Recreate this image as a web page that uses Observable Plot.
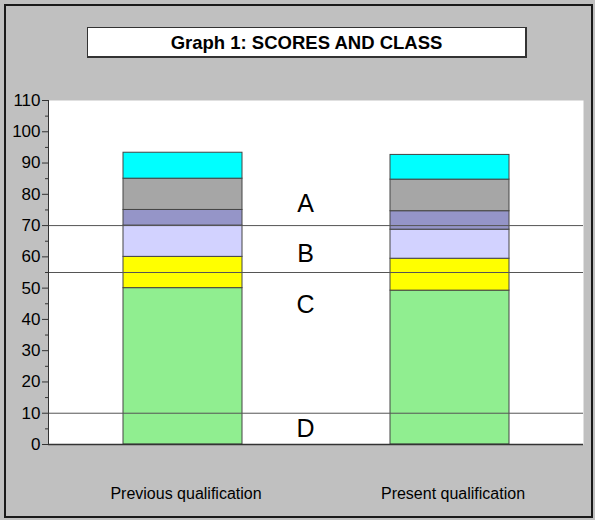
<!DOCTYPE html>
<html><head><meta charset="utf-8">
<script src="https://cdn.jsdelivr.net/npm/d3@7"></script>
<script src="https://cdn.jsdelivr.net/npm/@observablehq/plot@0.6"></script>
<style>
body{margin:0;background:#c0c0c0;font-family:"Liberation Sans",Arial,sans-serif;}
#wrap{position:relative;width:595px;height:520px;background:#c0c0c0;overflow:hidden}
#border{position:absolute;left:4px;top:4px;width:589px;height:514px;box-sizing:border-box;border:2px solid #1a1a1a;pointer-events:none}
#title{position:absolute;left:87px;top:27px;width:440px;height:31px;box-sizing:border-box;background:#fff;border:1px solid #333;border-right-width:2px;border-bottom-width:2px;font-weight:bold;font-size:18.5px;text-align:center;line-height:29px;color:#000}
#chart{position:absolute;left:0;top:0}
</style></head><body>
<div id="wrap"><div id="chart"></div><div id="title">Graph 1: SCORES AND CLASS</div><div id="border"></div></div>
<script>
const categories = ["Previous qualification", "Present qualification"];
const segments = ["part 1", "part 2", "part 3", "part 4", "part 5", "part 6"];
const segmentColors = ["#90ee90", "#ffff00", "#d2d2ff", "#9595c8", "#a6a6a6", "#00ffff"];
const previousValues = [50, 10, 10, 5, 10, 8.3];
const presentValues = [49.2, 10.2, 9.3, 5.9, 10.1, 7.9];
const yTicks = [0, 10, 20, 30, 40, 50, 60, 70, 80, 90, 100, 110];
const yMinorTicks = [5, 15, 25, 35, 45, 55, 65, 75, 85, 95, 105];
const classLines = [70, 55, 10];
const classLabels = ["A", "B", "C", "D"];
const classLabelY = [77, 61, 44.5, 5];

const seriesValues = [previousValues, presentValues];
const data = categories.flatMap((c, i) =>
  segments.map((s, j) => ({category: c, segment: s, value: seriesValues[i][j]})));
const labels = classLabels.map((t, i) => ({text: t, y: classLabelY[i]}));

const chart = Plot.plot({
  width: 595, height: 520,
  marginLeft: 48, marginRight: 12, marginTop: 100, marginBottom: 76,
  style: {background: "transparent", fontFamily: "Liberation Sans, Arial, sans-serif", fontSize: "16px", color: "#000"},
  x: {domain: categories, padding: 0},
  y: {domain: [0, 110]},
  color: {domain: segments, range: segmentColors},
  marks: [
    Plot.frame({fill: "white", stroke: null}),
    Plot.barY(data, {x: "category", y: "value", fill: "segment", stroke: "#444", strokeWidth: 1, insetLeft: 74, insetRight: 74}),
    Plot.ruleY(classLines, {stroke: "#555", strokeWidth: 1}),
    Plot.text(labels, {y: "y", text: "text", frameAnchor: "middle", dx: -10.5, fontSize: 25, fill: "#000"}),
    Plot.axisY({ticks: yTicks, tickSize: 6, tickPadding: 2, label: null, stroke: "#333", text: null}),
    Plot.text(yTicks, {y: d => d, text: d => String(d), frameAnchor: "left", textAnchor: "end", dx: -8, fontSize: 17, fill: "#000"}),
    Plot.axisY({ticks: yMinorTicks, tickSize: 3, text: null, label: null, stroke: "#333"}),
    Plot.axisX({tickSize: 0, tickPadding: 43, label: null, dx: 3}),
    Plot.ruleY([0], {stroke: "#333", strokeWidth: 1.5}),
    Plot.frame({anchor: "left", stroke: "#333"})
  ]
});
document.getElementById("chart").appendChild(chart);
</script>
</body></html>
